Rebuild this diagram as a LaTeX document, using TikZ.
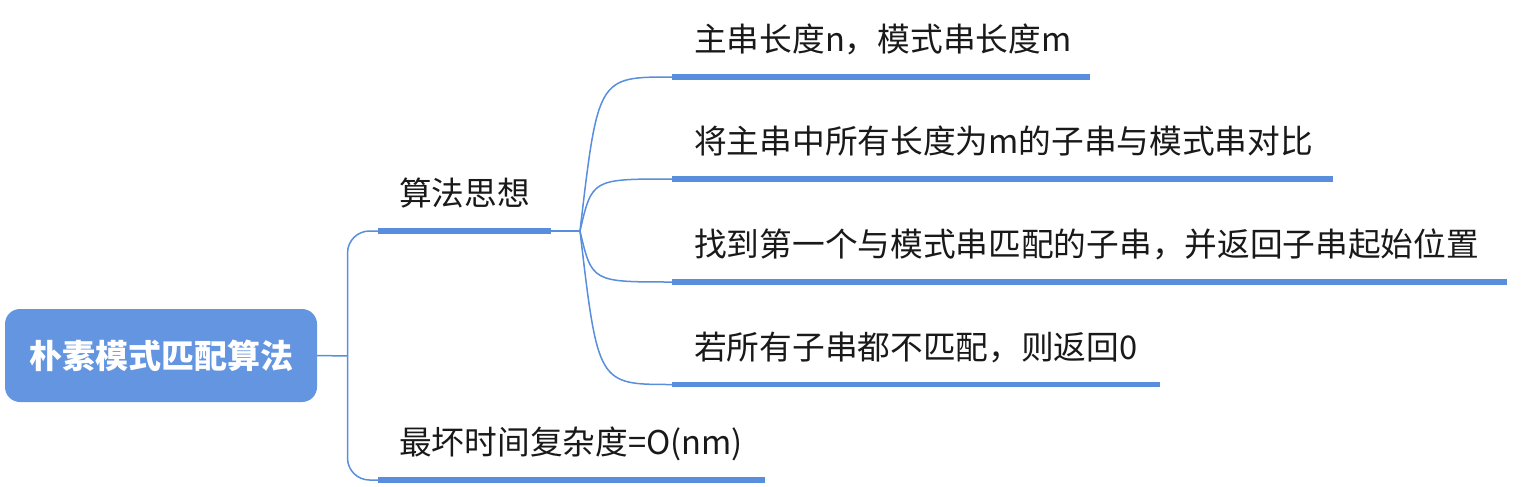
\documentclass[tikz,border=0pt]{standalone}
\usepackage{fontspec}
\setmainfont{Noto Sans CJK SC}
\definecolor{boxblue}{RGB}{100,149,224}
\definecolor{lineblue}{RGB}{88,142,220}
\definecolor{txt}{RGB}{25,25,25}
\begin{document}
\begin{tikzpicture}[x=1pt,y=-1pt,
  conn/.style={draw=lineblue,line width=1.5pt},
  ubar/.style={draw=lineblue,line width=5.5pt},
  lbl/.style={anchor=base west,inner sep=0pt,text=txt,font=\fontsize{32.7}{38}\selectfont},
  rootbox/.style={fill=boxblue,rounded corners=15pt,minimum width=312pt,minimum height=93pt,inner sep=0pt,text=white,font=\fontsize{33}{38}\selectfont\bfseries}]
\useasboundingbox (0,0) rectangle (1523,487);
% root
\node[rootbox] (root) at (161,355.5) {朴素模式匹配算法};
% level 1
\coordinate (tr) at (347.5,356);
\coordinate (b1s) at (378,231);
\coordinate (b1e) at (551,231);
\coordinate (fan) at (580,231);
\coordinate (b2s) at (378,480);
\coordinate (b2e) at (765,480);
\node[lbl] (b1) at (399,205.5) {算法思想};
\node[lbl] (b2) at (399,454.5) {最坏时间复杂度=O(nm)};
\draw[conn] (root.east) -- (tr);
\draw[conn,rounded corners=22pt] (b1s) -| (tr) |- (b2s);
\draw[ubar] (b1s) -- (b1e);
\draw[ubar] (b2s) -- (b2e);
\draw[conn] (b1e) -- (fan);
% level 2
\coordinate (c1s) at (672,77);
\coordinate (c1e) at (1090,77);
\coordinate (c2s) at (672,179);
\coordinate (c2e) at (1333,179);
\coordinate (c3s) at (672,282);
\coordinate (c3e) at (1507,282);
\coordinate (c4s) at (672,384.5);
\coordinate (c4e) at (1160,384.5);
\node[lbl] (c1) at (694,51.5) {主串长度n，模式串长度m};
\node[lbl] (c2) at (694,153.5) {将主串中所有长度为m的子串与模式串对比};
\node[lbl] (c3) at (694,256.5) {找到第一个与模式串匹配的子串，并返回子串起始位置};
\node[lbl] (c4) at (694,359) {若所有子串都不匹配，则返回0};
\draw[conn] (fan) .. controls (598,77) .. (c1s);
\draw[conn] (fan) .. controls (592,179) .. (c2s);
\draw[conn] (fan) .. controls (592,282) .. (c3s);
\draw[conn] (fan) .. controls (598,384.5) .. (c4s);
\draw[ubar] (c1s) -- (c1e);
\draw[ubar] (c2s) -- (c2e);
\draw[ubar] (c3s) -- (c3e);
\draw[ubar] (c4s) -- (c4e);
\end{tikzpicture}
\end{document}
